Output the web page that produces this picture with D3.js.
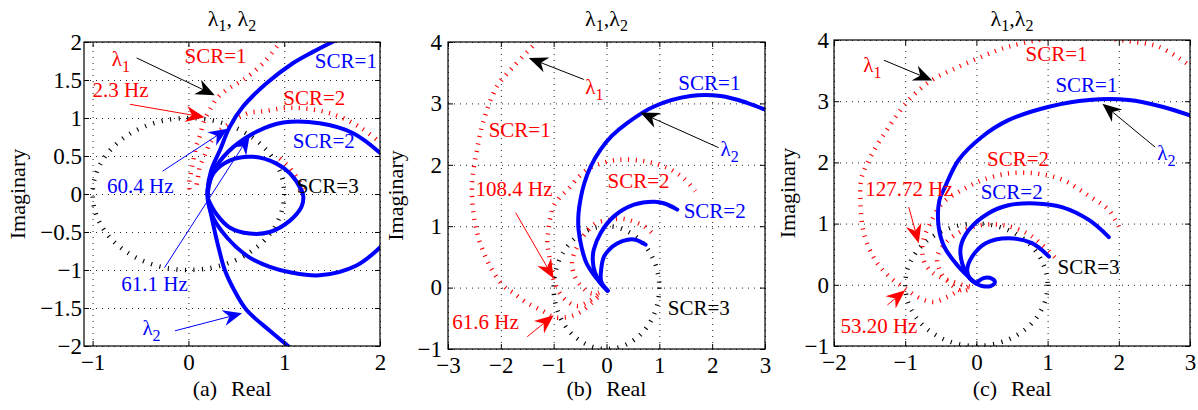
<!DOCTYPE html>
<html>
<head>
<meta charset="utf-8">
<script src="https://cdn.jsdelivr.net/npm/d3@7"></script>
<style>
  body { margin: 0; background: #fff; }
  svg { display: block; }
  text { font-family: "Liberation Serif", "Times New Roman", serif; }
</style>
</head>
<body>
<svg id="chart" width="1198" height="410"></svg>
<script>
// ---------- tick values ----------
const aXTicks = [-1, 0, 1, 2];
const aYTicks = [-2, -1.5, -1, -0.5, 0, 0.5, 1, 1.5, 2];
const bXTicks = [-3, -2, -1, 0, 1, 2, 3];
const bYTicks = [-1, 0, 1, 2, 3, 4];
const cXTicks = [-2, -1, 0, 1, 2, 3];
const cYTicks = [-1, 0, 1, 2, 3, 4];

// ---------- panel (a): eigenvalue loci [real, imag] ----------
const aBlueSCR1 = [[1.06,-2.02],[0.85,-1.8],[0.61,-1.53],[0.48,-1.27],[0.38,-1.0],[0.31,-0.68],[0.25,-0.35],[0.21,-0.1],[0.2,0.05],[0.24,0.32],[0.33,0.58],[0.43,0.88],[0.57,1.15],[0.815,1.456],[1.09,1.72],[1.3,1.87],[1.55,2.03]];
const aBlueSCR2 = [[2.02,-0.68],[1.755,-0.94],[1.37,-1.07],[1.06,-1.03],[0.85,-0.96],[0.62,-0.82],[0.4,-0.57],[0.24,-0.26],[0.2,0.05],[0.29,0.36],[0.47,0.62],[0.71,0.82],[0.99,0.94],[1.37,0.93],[1.72,0.8],[2.02,0.52]];
const aBlueSCR3 = [[0.2,0.0],[0.26,0.27],[0.43,0.44],[0.675,0.49],[0.92,0.4],[1.06,0.27],[1.18,0.05],[1.2,-0.04],[1.18,-0.17],[1.06,-0.35],[0.85,-0.5],[0.64,-0.52],[0.43,-0.44],[0.29,-0.26],[0.21,-0.08]];
const aRedSCR1 = [[0.97,2.02],[0.78,1.72],[0.57,1.5],[0.41,1.38],[0.3,1.26],[0.22,1.1],[0.16,0.95],[0.12,0.77],[0.08,0.62],[0.05,0.44],[0.03,0.3],[0.01,0.16],[0.01,0.02]];
const aRedSCR2 = [[2.02,0.66],[1.79,0.88],[1.51,1.05],[1.18,1.13],[0.99,1.13],[0.8,1.09],[0.64,1.07],[0.54,1.02],[0.43,0.93],[0.35,0.86],[0.29,0.79],[0.22,0.66],[0.17,0.51],[0.12,0.36],[0.1,0.22],[0.08,0.08]];
const aRedSCR3 = [[1.2,0.06],[1.13,0.22],[1.03,0.38],[0.92,0.5]];

// ---------- panel (b) ----------
const bBlueSCR1 = [[0.02,-0.05],[-0.12,0.08],[-0.25,0.22],[-0.38,0.4],[-0.47,0.65],[-0.53,0.95],[-0.53,1.2],[-0.49,1.45],[-0.42,1.7],[-0.3,1.97],[-0.11,2.25],[0.1,2.47],[0.39,2.68],[0.9,2.95],[1.59,3.12],[2.16,3.12],[2.66,3.01],[3.02,2.89]];
const bBlueSCR2 = [[0.02,-0.05],[-0.12,0.08],[-0.22,0.25],[-0.26,0.45],[-0.24,0.62],[-0.11,0.89],[0.14,1.16],[0.52,1.35],[0.9,1.4],[1.1,1.37],[1.34,1.27]];
const bBlueSCR3 = [[0.02,-0.05],[-0.1,0.1],[-0.1,0.3],[-0.05,0.5],[0.05,0.62],[0.2,0.72],[0.4,0.78],[0.55,0.78],[0.74,0.7]];
const bRedSCR1 = [[-1.3,4.02],[-1.76,3.6],[-2.07,3.28],[-2.32,2.74],[-2.45,2.25],[-2.54,1.76],[-2.54,1.43],[-2.45,0.89],[-2.2,0.34],[-1.94,0.02],[-1.76,-0.09],[-1.5,-0.25],[-1.19,-0.39],[-1.0,-0.48],[-0.75,-0.48],[-0.5,-0.4],[-0.28,-0.25],[-0.1,-0.1]];
const bRedSCR2 = [[1.68,1.57],[1.46,1.78],[1.15,1.95],[0.71,2.06],[0.2,2.08],[-0.18,2.0],[-0.37,1.92],[-0.52,1.81],[-0.71,1.62],[-0.87,1.48],[-1.0,1.33],[-1.06,1.15],[-1.1,0.94],[-1.12,0.72],[-1.08,0.5],[-1.04,0.3],[-1.0,0.13],[-0.9,-0.07],[-0.75,-0.22],[-0.55,-0.3],[-0.33,-0.22],[-0.12,-0.08]];
const bRedSCR3 = [[0.85,0.9],[0.71,1.0],[0.5,1.08],[0.3,1.12],[0.05,1.1],[-0.2,1.05],[-0.43,0.85],[-0.57,0.64],[-0.65,0.42],[-0.6,0.18],[-0.45,0.0],[-0.3,-0.09],[-0.15,-0.08],[-0.04,-0.02]];

// ---------- panel (c) ----------
const cBlueSCR1 = [[0.0,0.03],[0.1,0.11],[0.22,0.1],[0.26,0.04],[0.2,-0.02],[0.08,-0.02],[0.0,0.02],[-0.11,0.13],[-0.29,0.35],[-0.45,0.62],[-0.53,0.95],[-0.52,1.38],[-0.44,1.6],[-0.25,2.04],[0.08,2.42],[0.45,2.69],[1.02,2.91],[1.58,3.02],[2.14,3.02],[2.61,2.91],[3.02,2.76]];
const cBlueSCR2 = [[0.0,0.02],[-0.11,0.13],[-0.2,0.35],[-0.22,0.62],[-0.11,0.89],[0.17,1.17],[0.45,1.3],[0.83,1.33],[1.2,1.27],[1.58,1.06],[1.86,0.78]];
const cBlueSCR3 = [[0.0,0.02],[-0.09,0.1],[-0.13,0.24],[-0.06,0.46],[0.13,0.68],[0.45,0.76],[0.78,0.68],[1.02,0.46]];
const cRedSCR1 = [[2.95,3.62],[2.56,3.89],[2.14,3.98],[1.3,4.06],[0.45,3.89],[0.08,3.73],[-0.29,3.54],[-0.62,3.35],[-0.95,3.02],[-1.23,2.58],[-1.46,2.15],[-1.61,1.76],[-1.63,1.38],[-1.58,0.84],[-1.42,0.4],[-1.22,0.13],[-1.0,-0.06],[-0.79,-0.22],[-0.6,-0.28],[-0.41,-0.2],[-0.25,-0.1],[-0.1,-0.03]];
const cRedSCR2 = [[2.0,0.95],[1.86,1.22],[1.57,1.46],[1.2,1.72],[0.83,1.82],[0.45,1.82],[0.08,1.71],[-0.2,1.55],[-0.48,1.33],[-0.65,1.0],[-0.75,0.7],[-0.74,0.4],[-0.62,0.2],[-0.4,0.08],[-0.2,0.0],[-0.08,-0.03]];
const cRedSCR3 = [[1.1,0.45],[0.9,0.68],[0.7,0.85],[0.4,0.97],[0.1,0.98],[-0.2,0.88],[-0.42,0.7],[-0.55,0.45],[-0.5,0.2],[-0.35,0.0],[-0.2,-0.1],[-0.05,-0.05]];

// unit circle reference (centre and radius in data units)
const unitCircle = [0, 0, 1];

// ---------- layout ----------
const BLUE = "#0000ff", RED = "#ff0000", BLACK = "#000";
const TICK_FONT = 23, LABEL_FONT = 21, CAPTION_FONT = 22, SUB_FONT = 16;

const panels = [
  { id: "a", box: [84, 42, 380, 346], xDom: [-1.09, 2], yDom: [-2, 2],
    xTicks: aXTicks, yTicks: aYTicks, tag: "(a)", title: [", "],
    blue: [aBlueSCR1, aBlueSCR2, aBlueSCR3], red: [aRedSCR1, aRedSCR2, aRedSCR3],
    ylabelX: 17, yPad: 2,
    labels: [
      { t: "λ", s: "1", x: -0.80, y: 1.68, c: RED },
      { t: "SCR=1", x: -0.04, y: 1.72, c: RED },
      { t: "SCR=1", x: 1.32, y: 1.66, c: BLUE },
      { t: "2.3 Hz", x: -1.0, y: 1.28, c: RED },
      { t: "SCR=2", x: 0.99, y: 1.17, c: RED },
      { t: "SCR=2", x: 1.09, y: 0.60, c: BLUE },
      { t: "60.4 Hz", x: -0.85, y: 0.01, c: BLUE },
      { t: "SCR=3", x: 1.13, y: 0.01, c: BLACK },
      { t: "61.1 Hz", x: -0.70, y: -1.27, c: BLUE },
      { t: "λ", s: "2", x: -0.48, y: -1.86, c: BLUE }
    ],
    arrows: [
      { from: [-0.54, 1.79], to: [0.275, 1.30], c: BLACK },
      { from: [-0.61, 1.18], to: [0.17, 1.01], c: RED },
      { from: [-0.27, 0.30], to: [0.41, 0.86], c: BLUE },
      { from: [-0.25, -0.97], to: [0.64, 0.77], c: BLUE },
      { from: [-0.14, -1.80], to: [0.56, -1.57], c: BLUE }
    ] },
  { id: "b", box: [448, 42, 765, 349], xDom: [-3, 3], yDom: [-1, 4],
    xTicks: bXTicks, yTicks: bYTicks, tag: "(b)", title: [","],
    blue: [bBlueSCR1, bBlueSCR2, bBlueSCR3], red: [bRedSCR1, bRedSCR2, bRedSCR3],
    ylabelX: 395, yPad: 6,
    labels: [
      { t: "λ", s: "1", x: -0.40, y: 3.16, c: RED },
      { t: "SCR=1", x: -2.23, y: 2.46, c: RED },
      { t: "SCR=1", x: 1.36, y: 3.22, c: BLUE },
      { t: "λ", s: "2", x: 2.16, y: 2.15, c: BLUE },
      { t: "SCR=2", x: 0.02, y: 1.63, c: RED },
      { t: "108.4 Hz", x: -2.48, y: 1.50, c: RED },
      { t: "SCR=2", x: 1.46, y: 1.14, c: BLUE },
      { t: "SCR=3", x: 1.16, y: -0.45, c: BLACK },
      { t: "61.6 Hz", x: -2.92, y: -0.67, c: RED }
    ],
    arrows: [
      { from: [-0.43, 3.39], to: [-1.47, 3.74], c: BLACK },
      { from: [2.12, 2.28], to: [0.64, 2.85], c: BLACK },
      { from: [-1.72, 1.22], to: [-1.0, 0.15], c: RED },
      { from: [-1.5, -0.80], to: [-1.0, -0.45], c: RED }
    ] },
  { id: "c", box: [834, 40, 1190, 346], xDom: [-2, 3], yDom: [-1, 4],
    xTicks: cXTicks, yTicks: cYTicks, tag: "(c)", title: [","],
    blue: [cBlueSCR1, cBlueSCR2, cBlueSCR3], red: [cRedSCR1, cRedSCR2, cRedSCR3],
    ylabelX: 787, yPad: 5,
    labels: [
      { t: "λ", s: "1", x: -1.59, y: 3.47, c: RED },
      { t: "SCR=1", x: 0.69, y: 3.66, c: RED },
      { t: "SCR=1", x: 1.11, y: 3.15, c: BLUE },
      { t: "λ", s: "2", x: 2.54, y: 2.04, c: BLUE },
      { t: "SCR=2", x: 0.15, y: 1.94, c: RED },
      { t: "127.72 Hz", x: -1.56, y: 1.45, c: RED },
      { t: "SCR=2", x: 0.06, y: 1.40, c: BLUE },
      { t: "SCR=3", x: 1.14, y: 0.17, c: BLACK },
      { t: "53.20 Hz", x: -1.91, y: -0.79, c: RED }
    ],
    arrows: [
      { from: [-1.30, 3.67], to: [-0.62, 3.34], c: BLACK },
      { from: [2.51, 2.25], to: [1.77, 2.96], c: BLACK },
      { from: [-0.95, 1.27], to: [-0.81, 0.68], c: RED },
      { from: [-1.25, -0.33], to: [-1.0, -0.09], c: RED }
    ] }
];

const svg = d3.select("#chart");
const tickFmt = d3.format("~g");

function drawPanel(p) {
  const [L, T, R, B] = p.box;
  const x = d3.scaleLinear().domain(p.xDom).range([L, R]);
  const y = d3.scaleLinear().domain(p.yDom).range([B, T]);
  const g = svg.append("g").attr("class", "panel-" + p.id);

  svg.append("clipPath").attr("id", "clip-" + p.id)
    .append("rect").attr("x", L).attr("y", T).attr("width", R - L).attr("height", B - T);

  // dotted grid
  const grid = g.append("g").attr("class", "grid");
  grid.append("g").attr("transform", `translate(0,${B})`)
    .call(d3.axisBottom(x).tickValues(p.xTicks).tickSize(-(B - T)).tickFormat(""));
  grid.append("g").attr("transform", `translate(${L},0)`)
    .call(d3.axisLeft(y).tickValues(p.yTicks).tickSize(-(R - L)).tickFormat(""));
  grid.selectAll(".domain").remove();
  grid.selectAll("line").attr("stroke", "#222").attr("stroke-width", 1).attr("stroke-dasharray", "1,5");

  // curves
  const line = d3.line().x(d => x(d[0])).y(d => y(d[1])).curve(d3.curveCatmullRom.alpha(0.5));
  const curves = g.append("g").attr("clip-path", `url(#clip-${p.id})`);

  // black dotted unit circle
  curves.append("ellipse")
    .attr("cx", x(unitCircle[0])).attr("cy", y(unitCircle[1]))
    .attr("rx", x(unitCircle[2]) - x(0)).attr("ry", y(0) - y(unitCircle[2]))
    .attr("fill", "none").attr("stroke", BLACK)
    .attr("stroke-width", 4.5).attr("stroke-dasharray", "1.1,7.5");

  curves.selectAll("path.red").data(p.red).join("path").attr("class", "red")
    .attr("d", line).attr("fill", "none").attr("stroke", RED)
    .attr("stroke-width", 4.5).attr("stroke-dasharray", "1.1,6.5");

  curves.selectAll("path.blue").data(p.blue).join("path").attr("class", "blue")
    .attr("d", line).attr("fill", "none").attr("stroke", BLUE)
    .attr("stroke-width", 4).attr("stroke-linejoin", "round").attr("stroke-linecap", "round");

  // box and inward ticks on all sides
  const ax = g.append("g").attr("class", "axes");
  ax.append("g").attr("transform", `translate(0,${B})`)
    .call(d3.axisBottom(x).tickValues(p.xTicks).tickSize(-5).tickPadding(8).tickFormat(tickFmt));
  ax.append("g").attr("transform", `translate(0,${T})`)
    .call(d3.axisTop(x).tickValues(p.xTicks).tickSize(-5).tickFormat(""));
  ax.append("g").attr("transform", `translate(${L},0)`)
    .call(d3.axisLeft(y).tickValues(p.yTicks).tickSize(-5).tickPadding(p.yPad).tickFormat(tickFmt));
  ax.append("g").attr("transform", `translate(${R},0)`)
    .call(d3.axisRight(y).tickValues(p.yTicks).tickSize(-5).tickFormat(""));
  ax.selectAll(".domain").remove();
  ax.selectAll("line").attr("stroke", "#000");
  ax.selectAll("text").attr("font-size", TICK_FONT).attr("fill", "#000")
    .attr("font-family", "Liberation Serif, Times New Roman, serif");
  g.append("rect").attr("x", L).attr("y", T).attr("width", R - L).attr("height", B - T)
    .attr("fill", "none").attr("stroke", "#000").attr("stroke-width", 1.2);

  // arrows with notched heads
  const arr = g.append("g").attr("class", "arrows");
  p.arrows.forEach(a => {
    const x0 = x(a.from[0]), y0 = y(a.from[1]), x1 = x(a.to[0]), y1 = y(a.to[1]);
    const len = Math.hypot(x1 - x0, y1 - y0), ux = (x1 - x0) / len, uy = (y1 - y0) / len;
    const nx = -uy, ny = ux, Lh = 19, W = 8, notch = 6;
    arr.append("line").attr("x1", x0).attr("y1", y0)
      .attr("x2", x1 - ux * (Lh - notch)).attr("y2", y1 - uy * (Lh - notch))
      .attr("stroke", a.c).attr("stroke-width", 1);
    const pts = [
      [x1, y1],
      [x1 - ux * Lh + nx * W, y1 - uy * Lh + ny * W],
      [x1 - ux * (Lh - notch), y1 - uy * (Lh - notch)],
      [x1 - ux * Lh - nx * W, y1 - uy * Lh - ny * W]
    ];
    arr.append("polygon").attr("points", pts.map(q => q.join(",")).join(" ")).attr("fill", a.c);
  });

  // text labels
  const lab = g.append("g").attr("class", "labels");
  p.labels.forEach(d => {
    const t = lab.append("text").attr("x", x(d.x)).attr("y", y(d.y))
      .attr("fill", d.c).attr("font-size", LABEL_FONT);
    t.append("tspan").text(d.t);
    if (d.s) t.append("tspan").attr("dy", 6).attr("font-size", SUB_FONT).text(d.s);
  });

  // title
  const cx = (L + R) / 2;
  const tt = svg.append("text").attr("x", cx).attr("y", 26).attr("text-anchor", "middle")
    .attr("font-size", CAPTION_FONT).attr("fill", "#000");
  tt.append("tspan").text("λ");
  tt.append("tspan").attr("dy", 5).attr("font-size", SUB_FONT).text("1");
  tt.append("tspan").attr("dy", -5).text(p.title[0] + "λ");
  tt.append("tspan").attr("dy", 5).attr("font-size", SUB_FONT).text("2");

  // x caption
  const xc = svg.append("text").attr("x", cx).attr("y", 396).attr("text-anchor", "middle")
    .attr("font-size", CAPTION_FONT).attr("fill", "#000");
  xc.append("tspan").text(p.tag);
  xc.append("tspan").attr("dx", 14).text("Real");

  // y caption
  svg.append("text").attr("transform", `translate(${p.ylabelX},${(T + B) / 2}) rotate(-90)`)
    .attr("text-anchor", "middle").attr("dy", "0.35em")
    .attr("font-size", CAPTION_FONT).attr("fill", "#000").text("Imaginary");
}

panels.forEach(drawPanel);
</script>
</body>
</html>
